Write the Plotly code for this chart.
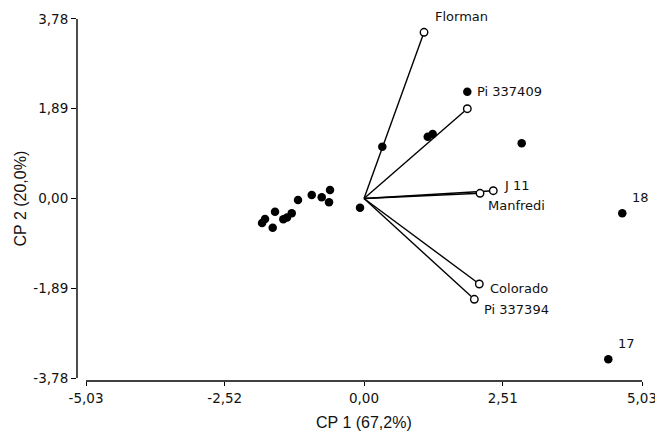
import plotly.graph_objects as go

# Observations (scores)
obs_x = [-1.845, -1.791, -1.652, -1.610, -1.460, -1.393, -1.308, -1.194, -0.946, -0.765,
         -0.615, -0.633, -0.072, 0.331, 1.153, 1.243, 1.869, 2.853, 4.673, 4.420]
obs_y = [-0.516, -0.432, -0.615, -0.278, -0.438, -0.400, -0.312, -0.032, 0.074, 0.025,
         0.179, -0.080, -0.194, 1.091, 1.301, 1.358, 2.249, 1.162, -0.312, -3.386]
obs_labels = ["", "", "", "", "", "", "", "", "", "", "", "", "", "", "", "", "", "", "18", "17"]

# Variable vectors (loadings)
var_names = ["Florman", "Pi 337409", "J 11", "Manfredi", "Colorado", "Pi 337394"]
var_x = [1.086, 1.869, 2.339, 2.099, 2.086, 1.996]
var_y = [3.500, 1.891, 0.164, 0.109, -1.800, -2.123]

x_ticks = [-5.03, -2.52, 0.0, 2.51, 5.03]
x_ticktext = ["-5,03", "-2,52", "0,00", "2,51", "5,03"]
y_ticks = [-3.78, -1.89, 0.0, 1.89, 3.78]
y_ticktext = ["-3,78", "-1,89", "0,00", "1,89", "3,78"]

TFONT = "DejaVu Sans, sans-serif"
AFONT = "Liberation Sans, Arial, sans-serif"

fig = go.Figure()

# vector lines
lx, ly = [], []
for vx, vy in zip(var_x, var_y):
    lx += [0, vx, None]
    ly += [0, vy, None]
fig.add_trace(go.Scatter(x=lx, y=ly, mode="lines", line=dict(color="black", width=1.4),
                         hoverinfo="skip", showlegend=False))

# observations
fig.add_trace(go.Scatter(x=obs_x, y=obs_y, mode="markers",
                         marker=dict(color="black", size=8.5), showlegend=False))

# vector tips
fig.add_trace(go.Scatter(x=var_x, y=var_y, mode="markers",
                         marker=dict(color="white", size=7.5, line=dict(color="black", width=1.4)),
                         showlegend=False))

# variable label offsets in pixels: (anchor on observation?, xshift, yshift)
var_label_pos = {
    "Florman": (False, 9, 16),
    "Pi 337409": (True, 8, 0),
    "J 11": (False, 9, 5),
    "Manfredi": (False, 6, -12),
    "Colorado": (False, 9, -5),
    "Pi 337394": (False, 8, -10),
}
for name, vx, vy in zip(var_names, var_x, var_y):
    on_obs, xs, ys = var_label_pos[name]
    px, py = (obs_x[16], obs_y[16]) if on_obs else (vx, vy)
    fig.add_annotation(x=px, y=py, text=name, showarrow=False, xanchor="left", yanchor="middle",
                       xshift=xs, yshift=ys, font=dict(family=TFONT, size=13, color="#111"))

for lab, ox, oy in zip(obs_labels, obs_x, obs_y):
    if lab:
        fig.add_annotation(x=ox, y=oy, text=lab, showarrow=False, xanchor="left",
                           yanchor="middle", xshift=8, yshift=16,
                           font=dict(family=TFONT, size=13, color="#111"))

# axis titles
fig.add_annotation(x=0, y=0, xref="x", yref="paper", text="CP 1 (67,2%)", showarrow=False,
                   xanchor="center", yanchor="middle", yshift=-41,
                   font=dict(family=AFONT, size=16, color="#111"))
fig.add_annotation(x=0, y=0, xref="paper", yref="y", text="CP 2 (20,0%)", showarrow=False,
                   textangle=-90, xanchor="center", yanchor="middle", xshift=-57,
                   font=dict(family=AFONT, size=16, color="#111"))

# detached axis lines
fig.add_shape(type="line", xref="x", yref="paper", x0=x_ticks[0], x1=x_ticks[-1], y0=0, y1=0,
              line=dict(color="black", width=1.4))
fig.add_shape(type="line", xref="paper", yref="y", x0=0, x1=0, y0=y_ticks[0], y1=y_ticks[-1],
              line=dict(color="black", width=1.4))

# page body adds an 8px margin, so the figure is sized to fit the window
fig.update_layout(
    width=655, height=425,
    margin=dict(l=69, r=18, t=8, b=52),
    plot_bgcolor="white", paper_bgcolor="white",
    font=dict(family=TFONT, size=13.5, color="#111"),
    xaxis=dict(range=[-5.193, 5.084], tickvals=x_ticks, ticktext=x_ticktext,
               showgrid=False, zeroline=False, showline=False, automargin=False,
               ticks="outside", ticklen=4, tickwidth=1.4, tickcolor="black",
               ticklabelstandoff=1),
    yaxis=dict(range=[-3.843, 3.843], tickvals=y_ticks, ticktext=y_ticktext,
               showgrid=False, zeroline=False, showline=False, automargin=False,
               ticks="outside", ticklen=5, tickwidth=1.4, tickcolor="black",
               ticklabelstandoff=0),
)

fig.write_html("out.html")
